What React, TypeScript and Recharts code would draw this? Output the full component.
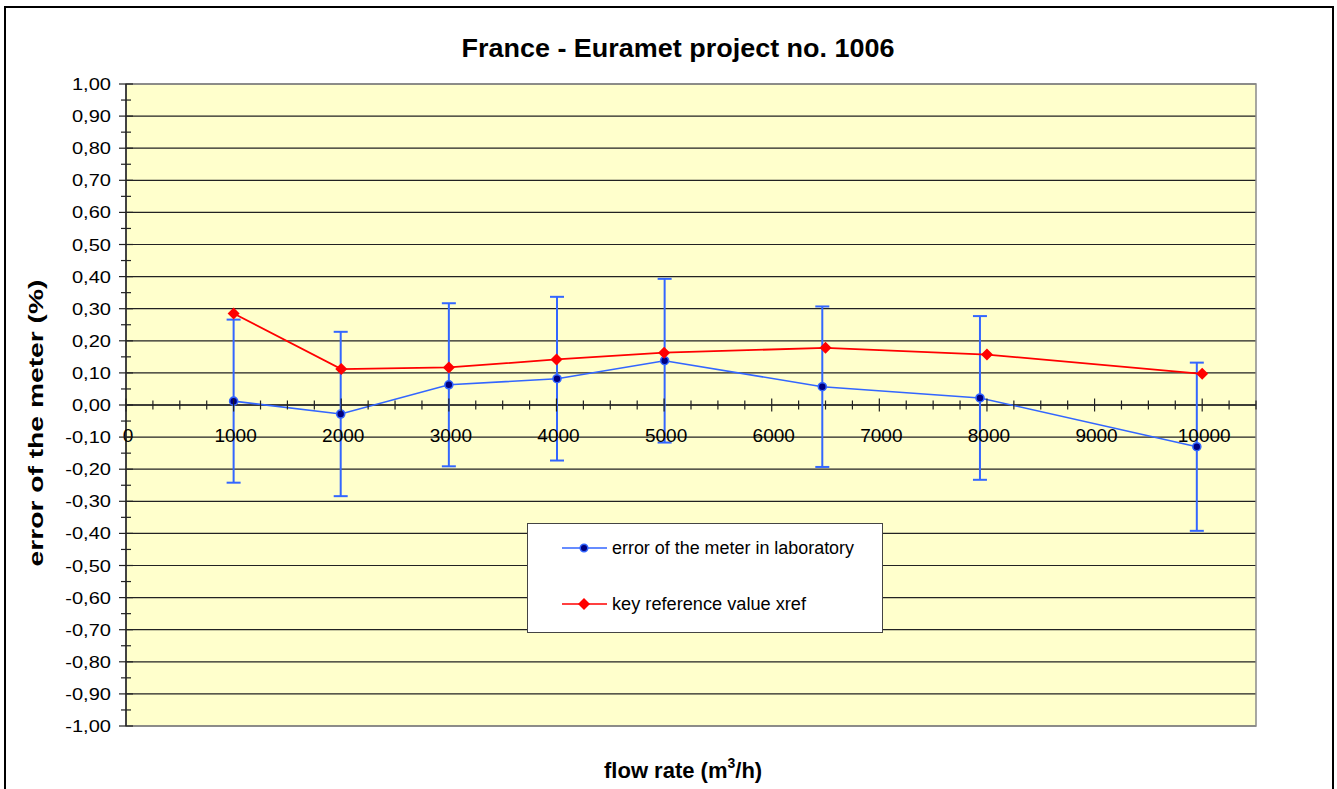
import React from 'react';
import {
  ScatterChart,
  Scatter,
  XAxis,
  YAxis,
  CartesianGrid,
  ErrorBar,
  ReferenceLine,
  ReferenceArea,
  Legend,
} from 'recharts';

// flow rate (m3/h) and error (%)
const labFlow = [1000, 1995, 3000, 4005, 5005, 6470, 7935, 9950];
const labError = [0.012, -0.028, 0.063, 0.082, 0.138, 0.057, 0.022, -0.13];
const labUncertainty = [0.254, 0.256, 0.254, 0.255, 0.255, 0.25, 0.255, 0.262];

const refFlow = [1000, 2000, 3000, 4000, 5000, 6500, 8000, 10000];
const refValue = [0.285, 0.112, 0.117, 0.142, 0.163, 0.178, 0.157, 0.097];

const xMajorTicks = [0, 1000, 2000, 3000, 4000, 5000, 6000, 7000, 8000, 9000, 10000];
const yMajorTicks = [
  -1, -0.9, -0.8, -0.7, -0.6, -0.5, -0.4, -0.3, -0.2, -0.1, 0,
  0.1, 0.2, 0.3, 0.4, 0.5, 0.6, 0.7, 0.8, 0.9, 1,
];

const LAB_NAME = 'error of the meter in laboratory';
const REF_NAME = 'key reference value xref';

const BLUE = '#3366FF';
const NAVY = '#000080';
const RED = '#FF0000';
const FONT = 'Liberation Sans, Arial, sans-serif';

const W = 1337;
const H = 789;
const PLOT_LEFT = 126;
const PLOT_TOP = 84;
const PLOT_BOTTOM = 726;
const ZERO_Y = (PLOT_TOP + PLOT_BOTTOM) / 2;

const xTicks = Array.from({ length: 43 }, (_, i) => i * 250);
const yTicks = [
  ...yMajorTicks,
  ...yMajorTicks.slice(1).map((v, i) => (v + yMajorTicks[i]) / 2),
].sort((a, b) => a - b);

const labData = labFlow.map((x, i) => ({ x, y: labError[i], err: labUncertainty[i] }));
const refData = refFlow.map((x, i) => ({ x, y: refValue[i] }));

const isMajorY = (v: number) => yMajorTicks.some((m) => Math.abs(m - v) < 1e-9);

const XTick = (props: any) => {
  const { x, payload } = props;
  const major = xMajorTicks.includes(payload.value);
  const len = major ? 6.5 : 4.5;
  return (
    <g>
      <line x1={x} x2={x} y1={ZERO_Y - len} y2={ZERO_Y + len} stroke="#222" strokeWidth={1.2} />
      {major && (
        <text x={x + 2} y={ZERO_Y + 37} textAnchor="middle" fontFamily={FONT} fontSize={19} fill="#000">
          {payload.value}
        </text>
      )}
    </g>
  );
};

const YTick = (props: any) => {
  const { y, payload } = props;
  const major = isMajorY(payload.value);
  const label = payload.value.toFixed(2).replace('.', ',');
  const natural = label.split('').reduce((s: number, c: string) => s + (c === ',' ? 0.278 : c === '-' ? 0.333 : 0.556), 0) * 17;
  return (
    <g>
      <line
        x1={major ? PLOT_LEFT - 7 : PLOT_LEFT - 5}
        x2={major ? PLOT_LEFT + 7 : PLOT_LEFT + 5}
        y1={y}
        y2={y}
        stroke="#222"
        strokeWidth={1.2}
      />
      {major && (
        <text
          x={111}
          y={y + 6}
          textAnchor="end"
          fontFamily={FONT}
          fontSize={17}
          fill="#000"
          textLength={natural * 1.18}
          lengthAdjust="spacingAndGlyphs"
        >
          {label}
        </text>
      )}
    </g>
  );
};

const LabDot = (props: any) => (
  <circle cx={props.cx} cy={props.cy} r={4} fill={NAVY} stroke={BLUE} strokeWidth={1.6} />
);

const RefDot = (props: any) => {
  const { cx, cy } = props;
  const s = 6;
  return <polygon points={`${cx},${cy - s} ${cx + s},${cy} ${cx},${cy + s} ${cx - s},${cy}`} fill={RED} />;
};

const renderLegend = () => (
  <div
    style={{
      width: 356,
      height: 110,
      boxSizing: 'border-box',
      border: '1px solid #444',
      background: '#fff',
    }}
  >
    <svg width={354} height={108}>
      <line x1={34} x2={79} y1={24} y2={24} stroke={BLUE} strokeWidth={1.6} />
      <circle cx={56} cy={24} r={3.8} fill={NAVY} stroke={BLUE} strokeWidth={1.5} />
      <text x={84} y={30} fontFamily={FONT} fontSize={18} textLength={242} lengthAdjust="spacingAndGlyphs">
        {LAB_NAME}
      </text>
      <line x1={34} x2={79} y1={80} y2={80} stroke={RED} strokeWidth={1.6} />
      <polygon points="56,74 62,80 56,86 50,80" fill={RED} />
      <text x={84} y={86} fontFamily={FONT} fontSize={18} textLength={194} lengthAdjust="spacingAndGlyphs">
        {REF_NAME}
      </text>
    </svg>
  </div>
);

export default function App() {
  return (
    <div style={{ position: 'relative', width: W, height: H, overflow: 'hidden', background: '#fff' }}>
      <style>{'body{margin:0}'}</style>
      <div
        style={{
          position: 'absolute',
          left: 4,
          top: 6,
          width: 1330,
          height: 820,
          boxSizing: 'border-box',
          border: '2px solid #000',
        }}
      />
      <div style={{ position: 'absolute', left: 0, top: 0 }}>
        <ScatterChart
          width={W}
          height={H}
          margin={{ top: PLOT_TOP, right: W - 1256, bottom: H - PLOT_BOTTOM - 30, left: PLOT_LEFT - 60 }}
        >
          <CartesianGrid
            vertical={false}
            horizontalValues={yMajorTicks}
            stroke="#222"
            strokeWidth={1.2}
            fill="#FFFFCC"
            fillOpacity={1}
          />
          <ReferenceArea x1={0} x2={10500} y1={-1} y2={1} fill="none" stroke="#8a8a8a" strokeWidth={1.5} />
          <XAxis
            type="number"
            dataKey="x"
            domain={[0, 10500]}
            ticks={xTicks}
            interval={0}
            height={30}
            axisLine={false}
            tickLine={false}
            tick={<XTick />}
          />
          <YAxis
            type="number"
            dataKey="y"
            domain={[-1, 1]}
            ticks={yTicks}
            interval={0}
            width={60}
            axisLine={{ stroke: '#222', strokeWidth: 1.5 }}
            tickLine={false}
            tick={<YTick />}
          />
          <ReferenceLine y={0} stroke="#222" strokeWidth={1.5} />
          <Legend
            layout="vertical"
            align="center"
            verticalAlign="middle"
            content={renderLegend}
            wrapperStyle={{ position: 'absolute', left: 527, top: 523, width: 356, height: 110 }}
          />
          <Scatter
            name={LAB_NAME}
            data={labData}
            fill={NAVY}
            line={{ stroke: BLUE, strokeWidth: 1.6 }}
            shape={<LabDot />}
            isAnimationActive={false}
          >
            <ErrorBar dataKey="err" direction="y" width={7} stroke={BLUE} strokeWidth={2} isAnimationActive={false} />
          </Scatter>
          <Scatter
            name={REF_NAME}
            data={refData}
            fill={RED}
            line={{ stroke: RED, strokeWidth: 1.8 }}
            shape={<RefDot />}
            isAnimationActive={false}
          />
        </ScatterChart>
      </div>
      <svg
        width={W}
        height={H}
        style={{ position: 'absolute', left: 0, top: 0, pointerEvents: 'none' }}
      >
        <text
          x={678}
          y={57}
          textAnchor="middle"
          fontFamily={FONT}
          fontWeight="bold"
          fontSize={25}
          textLength={433}
          lengthAdjust="spacingAndGlyphs"
        >
          France -  Euramet project no. 1006
        </text>
        <text
          transform="translate(43, 423) rotate(-90)"
          textAnchor="middle"
          fontFamily={FONT}
          fontWeight="bold"
          fontSize={20}
          textLength={287}
          lengthAdjust="spacingAndGlyphs"
        >
          error of the meter (%)
        </text>
        <text x={604} y={778} fontFamily={FONT} fontWeight="bold" fontSize={22}>
          flow rate (m
          <tspan fontSize={14} dy={-10}>3</tspan>
          <tspan dy={10}>/h)</tspan>
        </text>
      </svg>
    </div>
  );
}
